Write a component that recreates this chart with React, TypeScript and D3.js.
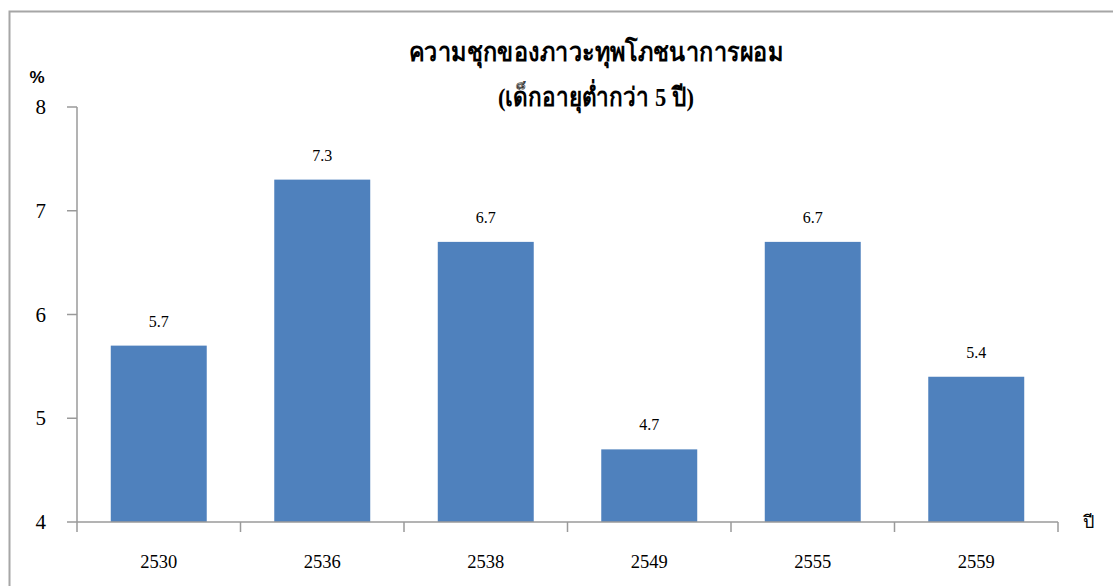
import React from "react";
import * as d3 from "d3";

const categories = ["2530", "2536", "2538", "2549", "2555", "2559"];
const values = [5.7, 7.3, 6.7, 4.7, 6.7, 5.4];
const yTicks = [4, 5, 6, 7, 8];
const titleLine1 = "ความชุกของภาวะทุพโภชนาการผอม";
const titleLine2 = "(เด็กอายุต่ำกว่า 5 ปี)";
const yUnit = "%";
const xUnit = "ปี";

const W = 1113;
const H = 586;
const plot = { left: 77, right: 1058, top: 107, bottom: 522 };
const barColor = "#4F81BD";
const axisColor = "#9a9a9a";
const serif = "'Liberation Serif', 'Times New Roman', serif";

export default function App() {
  const x = d3
    .scaleBand<string>()
    .domain(categories)
    .range([plot.left, plot.right])
    .paddingInner(0.413)
    .paddingOuter(0.2065);
  const y = d3.scaleLinear().domain([4, 8]).range([plot.bottom, plot.top]);
  const step = x.step();
  const boundaries = d3.range(categories.length + 1).map((i) => plot.left + i * step);

  return (
    <svg
      width={W}
      height={H}
      style={{ position: "absolute", left: 0, top: 0, background: "#fff" }}
    >
      <rect x={0} y={0} width={W} height={H} fill="#fff" />
      <rect
        x={9.5}
        y={11.5}
        width={W + 20}
        height={H + 20}
        fill="none"
        stroke="#a6a6a6"
        strokeWidth={2}
      />
      {/* title */}
      <text
        x={596}
        y={61}
        textAnchor="middle"
        fontFamily={serif}
        fontWeight="bold"
        fontSize={26}
        textLength={374}
        lengthAdjust="spacingAndGlyphs"
        fill="#000"
      >
        {titleLine1}
      </text>
      <text
        x={596}
        y={106}
        textAnchor="middle"
        fontFamily={serif}
        fontWeight="bold"
        fontSize={26}
        textLength={196}
        lengthAdjust="spacingAndGlyphs"
        fill="#000"
      >
        {titleLine2}
      </text>
      {/* bars */}
      {categories.map((c, i) => (
        <rect
          key={c}
          x={x(c)}
          y={y(values[i])}
          width={x.bandwidth()}
          height={y(4) - y(values[i])}
          fill={barColor}
        />
      ))}
      {/* value labels */}
      {categories.map((c, i) => (
        <text
          key={"v" + c}
          x={(x(c) as number) + x.bandwidth() / 2}
          y={y(values[i]) - 19}
          textAnchor="middle"
          fontFamily={serif}
          fontSize={16}
          fill="#000"
        >
          {values[i].toFixed(1)}
        </text>
      ))}
      {/* y axis */}
      <line x1={plot.left} x2={plot.left} y1={plot.top} y2={plot.bottom} stroke={axisColor} strokeWidth={1.5} />
      {yTicks.map((t) => (
        <g key={"yt" + t}>
          <line x1={plot.left - 10} x2={plot.left} y1={y(t)} y2={y(t)} stroke={axisColor} strokeWidth={1.5} />
          <text
            x={46}
            y={y(t) + 7}
            textAnchor="end"
            fontFamily={serif}
            fontSize={21}
            fill="#000"
          >
            {t}
          </text>
        </g>
      ))}
      <text
        x={37}
        y={83}
        textAnchor="middle"
        fontFamily="'Liberation Sans', Arial, sans-serif"
        fontWeight="bold"
        fontSize={17}
        fill="#000"
      >
        {yUnit}
      </text>
      {/* x axis */}
      <line x1={plot.left} x2={plot.right} y1={plot.bottom} y2={plot.bottom} stroke={axisColor} strokeWidth={1.5} />
      {boundaries.map((bx, i) => (
        <line key={"xt" + i} x1={bx} x2={bx} y1={plot.bottom} y2={plot.bottom + 10} stroke={axisColor} strokeWidth={1.5} />
      ))}
      {categories.map((c) => (
        <text
          key={"xl" + c}
          x={(x(c) as number) + x.bandwidth() / 2}
          y={568}
          textAnchor="middle"
          fontFamily={serif}
          fontSize={18.5}
          fill="#000"
        >
          {c}
        </text>
      ))}
      <text x={1088} y={528} textAnchor="middle" fontFamily={serif} fontSize={18} fill="#000">
        {xUnit}
      </text>
    </svg>
  );
}
